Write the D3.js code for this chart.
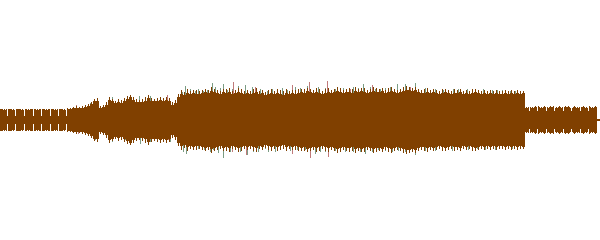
<!DOCTYPE html>
<html>
<head>
<meta charset="utf-8">
<script src="https://cdn.jsdelivr.net/npm/d3@7"></script>
<style>
  body { margin: 0; background: #fff; }
  svg { display: block; }
</style>
</head>
<body>
<svg id="wave" width="600" height="240"></svg>
<script>
// envelope of the main (brown) channel, one value per 3-frame column
const colFrames = 3;
const body = [
  11,10,11,11,10,11,11,10,11,10,11,11,10,11,11,10,11,11,10,11,11,10,
  11,11,12,
  12,12,12,13,14,16,19,19,
  12,13,15,20,19,17,18,17,19,21,23,20,18,18,18,19,22,19,19,19,20,19,20,19,15,17,23,26,25,27,26,27,26,26,
  27,28,27,29,28,27,26,28,27,28,26,27,28,27,26,27,26,27,28,26,27,25,26,27,26,27,26,25,27,26,27,26,27,
  28,27,29,28,27,28,27,26,27,28,27,28,29,28,27,28,28,27,29,28,29,28,27,28,29,28,28,29,27,28,29,28,27,28,
  29,30,30,29,30,28,27,27,28,27,28,27,26,27,28,27,26,27,27,28,26,27,26,27,28,27,26,27,26,27,26,27,26,
  26,27,26,27,26,27,26,27,
  12,13,12,13,13,12,13,12,13,13,12,13,12,13,13,12,13,12,13,13,12,13,12,13,
  1
];
// single-frame peak inside each column
const bodyPeak = [
  11,11,11,11,11,11,11,11,11,11,11,11,11,11,11,11,11,11,11,11,11,11,
  12,12,13,14,13,14,15,16,18,21,22,
  14,15,18,23,21,19,21,20,22,24,25,23,21,20,21,23,25,22,21,22,23,22,23,22,18,20,26,30,28,31,29,30,30,29,
  30,31,30,33,31,30,29,31,31,32,29,30,32,31,29,30,29,31,32,29,30,28,30,31,29,31,30,29,31,29,30,30,31,
  31,31,32,31,30,32,31,29,31,32,30,31,33,32,30,31,32,31,33,31,32,32,30,31,33,32,31,32,30,32,33,31,30,31,
  33,34,33,32,33,31,30,31,32,30,31,30,29,31,31,30,29,31,30,31,29,30,29,31,31,30,29,30,29,30,29,30,29,
  29,30,29,30,29,30,29,29,
  13,14,13,14,14,13,14,13,14,14,13,14,13,14,14,13,14,13,14,14,13,14,13,14,
  1
];

// short dropouts in the quiet passages
const dipX   = [7, 15, 24, 33, 41, 50, 58, 66, 529, 537, 546, 554, 563, 571, 580, 588];
const dipAmp = [4, 4, 4, 4, 4, 4, 4, 4, 9, 9, 9, 9, 9, 9, 9, 9];

// peaks of the second (green) channel
const greenTopX   = [90, 98, 112, 130, 139, 150, 167, 182, 185, 190, 195, 198, 203, 207, 212, 215, 220, 223, 227, 232, 238, 245, 252, 260, 267, 272, 277, 282, 287, 295, 300, 307, 310, 318, 325, 335, 343, 353, 358, 363, 370, 375, 380, 385, 390, 397, 405, 410, 415, 418, 425, 435, 443, 448, 453, 458, 467, 475, 483, 492, 497, 502, 510, 515, 523];
const greenTopAmp = [17, 19, 23, 24.5, 23.5, 24, 23, 28, 34, 31, 29, 31, 29, 30, 37, 33, 32, 36, 30, 31, 34, 35, 33, 31, 29, 31, 28, 32, 30, 33, 32, 34, 31, 33, 32, 31, 32, 33, 32, 36, 33, 31, 31, 32, 33, 36, 36, 32, 37, 31, 32, 31, 30, 30, 31, 31, 31, 31, 31, 29.5, 30, 29.5, 29, 29, 28];
const greenBotX   = [95, 112, 125, 140, 150, 170, 183, 186, 193, 198, 204, 210, 213, 218, 223, 230, 240, 247, 253, 258, 265, 268, 275, 283, 290, 297, 305, 315, 320, 325, 335, 345, 353, 360, 365, 372, 378, 385, 392, 398, 405, 413, 415, 425, 435, 445, 452, 460, 468, 477, 485, 495, 505, 512, 520];
const greenBotAmp = [20.5, 22, 20.5, 24, 22, 22, 32, 34, 30.5, 29, 30, 32, 30.5, 33, 38, 32, 32, 35.5, 32, 32, 29, 32, 32, 29, 31, 30.5, 30.5, 34, 32, 32, 31, 32, 32, 32, 34.5, 32, 30.5, 31, 32, 31, 32, 29, 35.5, 31, 31, 29, 31, 29, 30, 29, 30, 30, 28, 29, 28];

// peaks of the third (red) channel
const redTopX   = [76, 142, 167, 187, 205, 233, 255, 292, 309, 327, 350, 372, 403, 410, 430];
const redTopAmp = [14.5, 20, 24.5, 29.5, 30, 38, 33, 34.5, 38, 38.5, 31, 34.5, 33, 33, 30];
const redBotX   = [78, 168, 232, 246, 292, 310, 328, 373, 403, 410];
const redBotAmp = [14.5, 20.5, 32, 35.5, 34.5, 38, 37, 32, 32, 30.5];

const width = 600, height = 240;
const svg = d3.select('#wave').attr('shape-rendering', 'crispEdges');

const x = d3.scaleLinear().domain([0, body.length * colFrames]).range([0, width]);
const y = d3.scaleLinear().domain([-120, 120]).range([height - 0.5, -0.5]);

const spikes = (xs, amps, color, top) => {
  svg.append('g').selectAll('rect')
    .data(xs.map((d, i) => [d, amps[i]]))
    .join('rect')
      .attr('x', d => x(d[0]))
      .attr('width', x(1) - x(0))
      .attr('y', d => top ? y(d[1]) : y(0))
      .attr('height', d => top ? y(0) - y(d[1]) : y(-d[1]) - y(0))
      .attr('fill', color);
};

spikes(greenTopX, greenTopAmp, '#7b9c84', true);
spikes(greenBotX, greenBotAmp, '#7b9c84', false);
spikes(redTopX, redTopAmp, '#c07a7a', true);
spikes(redBotX, redBotAmp, '#c07a7a', false);

// brown channel: column body plus a one-frame peak in the middle
svg.append('g').selectAll('rect')
  .data(body)
  .join('rect')
    .attr('x', (d, i) => x(i * colFrames))
    .attr('width', x(colFrames) - x(0))
    .attr('y', d => y(d))
    .attr('height', d => y(-d) - y(d))
    .attr('fill', '#804000');
svg.append('g').selectAll('rect')
  .data(bodyPeak)
  .join('rect')
    .attr('x', (d, i) => x(i * colFrames + 1))
    .attr('width', x(1) - x(0))
    .attr('y', d => y(d))
    .attr('height', d => y(-d) - y(d))
    .attr('fill', '#804000');

// dropouts: cut the band back to the dip level
const dips = dipX.map((d, i) => [d, dipAmp[i]]);
svg.append('g').selectAll('rect')
  .data(dips)
  .join('rect')
    .attr('x', d => x(d[0]))
    .attr('width', x(1) - x(0))
    .attr('y', y(20))
    .attr('height', d => y(d[1]) - y(20))
    .attr('fill', '#fff');
svg.append('g').selectAll('rect')
  .data(dips)
  .join('rect')
    .attr('x', d => x(d[0]))
    .attr('width', x(1) - x(0))
    .attr('y', d => y(-d[1]))
    .attr('height', d => y(-20) - y(-d[1]))
    .attr('fill', '#fff');
</script>
</body>
</html>
